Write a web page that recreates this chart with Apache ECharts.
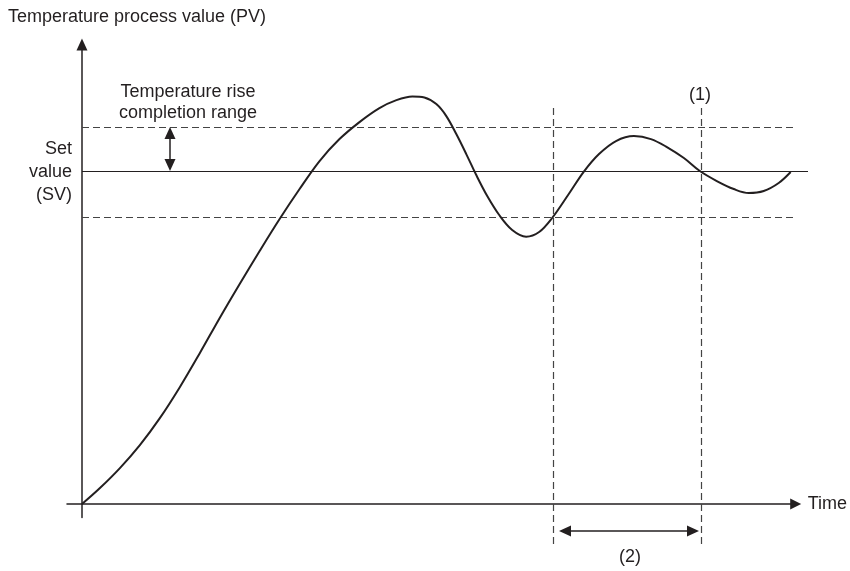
<!DOCTYPE html>
<html>
<head>
<meta charset="utf-8">
<script src="https://cdn.jsdelivr.net/npm/echarts@6/dist/echarts.min.js"></script>
<style>
html,body{margin:0;padding:0;background:#fff;}
#chart{width:850px;height:571px;}
</style>
</head>
<body>
<div id="chart"></div>
<script>
// ---- data ----
const timeValues = [0, 1.8, 3.8, 5.8, 7.8, 9.8, 11.8, 13.8, 15.8, 17.8, 19.8, 21.8, 23.8, 25.8, 27.8, 29.8, 31.5, 33.1, 34.3, 35.5, 36.5, 37.5, 38.5, 39.5, 40.6, 41.8, 43.1, 44.5, 45.8, 47.1, 48.7, 50.3, 51.8, 53.5, 55.3, 57.0, 58.6, 60.3, 61.9, 63.6, 65.3, 66.8, 68.3, 69.8, 71.0];
const pvValues   = [0, 4.8, 10.8, 17.7, 25.8, 35.1, 45.3, 55.9, 66.1, 76.0, 85.6, 94.6, 103.0, 109.6, 114.7, 118.9, 121.3, 122.4, 122.1, 120.1, 116.5, 111.1, 105.1, 98.8, 92.5, 86.8, 82.3, 80.3, 81.7, 85.9, 92.8, 99.9, 105.1, 109.0, 110.5, 109.6, 107.2, 103.9, 100.0, 97.0, 94.6, 93.4, 94.0, 96.4, 99.7];
const setValue = 100;
const rangeUpper = 113.2;
const rangeLower = 86.2;
const markTimes = [47.1, 61.9];   // start of check (left) and (1) completion point
const yAxisTitle = 'Temperature process value (PV)';
const xAxisTitle = 'Time';
const rangeText = 'Temperature rise\ncompletion range';
const svText = 'Set\nvalue\n(SV)';
const mark1Text = '(1)';
const mark2Text = '(2)';

// ---- chart ----
const INK = '#231f20';
const FONT = "'Liberation Sans', Arial, Helvetica, sans-serif";
const chart = echarts.init(document.getElementById('chart'), null, {renderer: 'canvas'});

const curve = timeValues.map((t, i) => [t, pvValues[i]]);
const lineEndSV = 72.6;
const lineEndRange = 71.4;

function label(x, y, text, align, vAlign, lineHeight) {
  return {
    value: [x, y],
    label: {
      show: true, position: 'inside', formatter: text,
      align: align, verticalAlign: vAlign,
      fontSize: 18, fontFamily: FONT, color: INK, lineHeight: lineHeight || 22,
      textBorderWidth: 0, textBorderColor: 'transparent', textShadowBlur: 0
    }
  };
}

const hiddenAxis = {show: false, axisLine: {show: false}, axisTick: {show: false}, axisLabel: {show: false}, splitLine: {show: false}};

const option = {
  animation: false,
  backgroundColor: '#fff',
  grid: [
    {left: 67, top: 44.5, width: 730, height: 472.9, containLabel: false},
    {left: 2, top: 4.53, width: 840, height: 566.15, containLabel: false}
  ],
  xAxis: [
    {
      gridIndex: 0, type: 'value', min: -1.5, max: 71.5,
      name: xAxisTitle, nameLocation: 'end', nameGap: 12,
      nameTextStyle: {fontSize: 18, fontFamily: FONT, color: INK, verticalAlign: 'middle'},
      axisLine: {onZero: true, lineStyle: {color: INK, width: 1.5}, symbol: ['none', 'triangle'], symbolSize: [11, 11]},
      axisTick: {show: false}, axisLabel: {show: false}, splitLine: {show: false}
    },
    Object.assign({gridIndex: 1, type: 'value', min: -8, max: 76}, hiddenAxis)
  ],
  yAxis: [
    {
      gridIndex: 0, type: 'value', min: -4, max: 138,
      axisLine: {onZero: true, lineStyle: {color: INK, width: 1.5}, symbol: ['none', 'triangle'], symbolSize: [11, 12]},
      axisTick: {show: false}, axisLabel: {show: false}, splitLine: {show: false}
    },
    Object.assign({gridIndex: 1, type: 'value', min: -20, max: 150}, hiddenAxis)
  ],
  series: [
    {
      name: 'SV', type: 'line', data: [], xAxisIndex: 1, yAxisIndex: 1, silent: true,
      markLine: {
        silent: true, symbol: ['none', 'none'], label: {show: false},
        lineStyle: {color: INK, width: 1.2, type: 'solid'},
        data: [[{coord: [0, setValue]}, {coord: [lineEndSV, setValue]}]]
      }
    },
    {
      name: 'range', type: 'line', data: [], xAxisIndex: 1, yAxisIndex: 1, silent: true,
      markLine: {
        silent: true, symbol: ['none', 'none'], label: {show: false},
        lineStyle: {color: '#444', width: 1.2, type: [7, 4]},
        data: [
          [{coord: [0, rangeUpper]}, {coord: [lineEndRange, rangeUpper]}],
          [{coord: [0, rangeLower]}, {coord: [lineEndRange, rangeLower]}],
          [{coord: [markTimes[0], 118.9]}, {coord: [markTimes[0], -12.3]}],
          [{coord: [markTimes[1], 118.9]}, {coord: [markTimes[1], -12.3]}]
        ]
      }
    },
    {
      name: 'arrows', type: 'line', data: [], xAxisIndex: 1, yAxisIndex: 1, silent: true,
      markLine: {
        silent: true, symbol: ['triangle', 'triangle'], symbolSize: [11, 12], label: {show: false},
        lineStyle: {color: INK, width: 1.5, type: 'solid'},
        data: [
          [{coord: [8.8, rangeUpper - 1.8]}, {coord: [8.8, setValue + 1.8]}],
          [{coord: [markTimes[0] + 1.2, -8.1]}, {coord: [markTimes[1] - 0.8, -8.1]}]
        ]
      }
    },
    {
      name: 'PV', type: 'line', data: curve, smooth: 0.35, showSymbol: false, clip: false,
      xAxisIndex: 0, yAxisIndex: 0,
      lineStyle: {color: INK, width: 2}, silent: true, z: 5
    },
    {
      name: 'labels', type: 'scatter', symbolSize: 0, clip: false, silent: true,
      xAxisIndex: 1, yAxisIndex: 1,
      itemStyle: {opacity: 1},
      data: [
        label(-7.4, 146.2, yAxisTitle, 'left', 'middle'),
        label(10.6, 120.6, rangeText, 'center', 'middle', 21),
        label(-1.0, 99.7, svText, 'right', 'middle', 23),
        label(61.8, 122.8, mark1Text, 'center', 'middle'),
        label(54.8, -15.9, mark2Text, 'center', 'middle')
      ]
    }
  ]
};
chart.setOption(option);
</script>
</body>
</html>
